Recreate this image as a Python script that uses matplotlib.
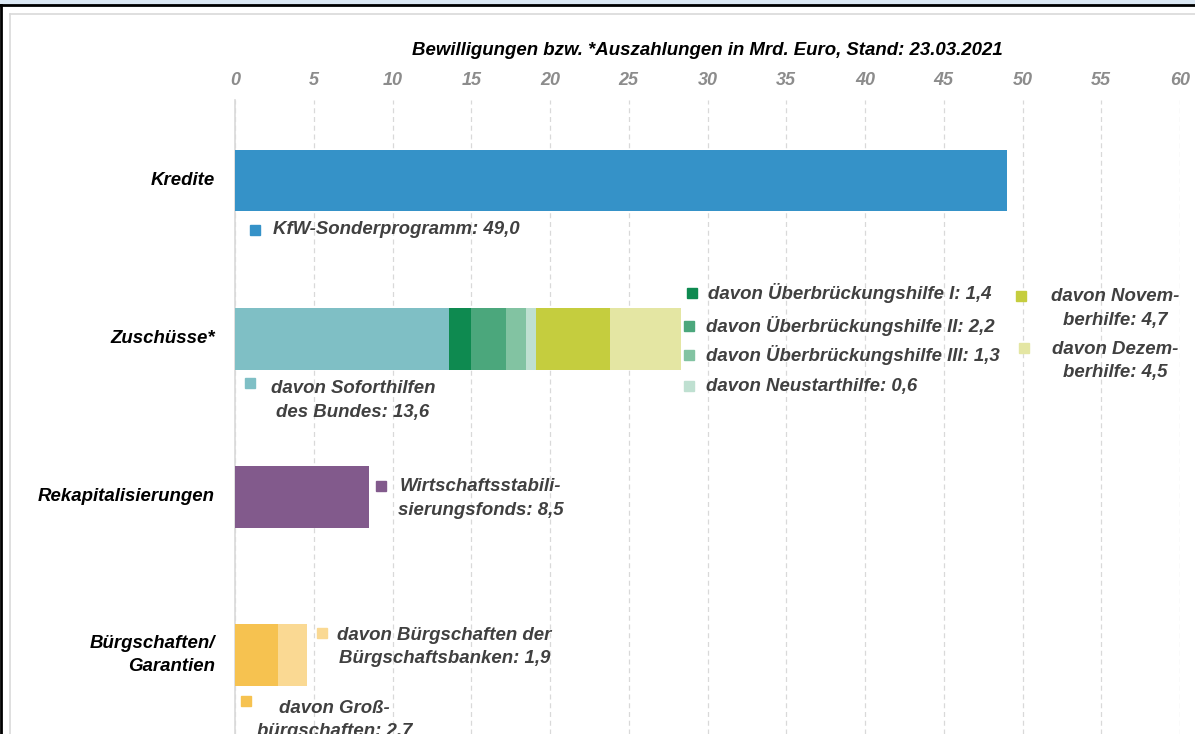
import matplotlib.pyplot as plt
from matplotlib.patches import Rectangle
from matplotlib.lines import Line2D

plt.rcParams['font.family'] = ['Liberation Sans', 'DejaVu Sans']

categories = ['Kredite', 'Zuschüsse*', 'Rekapitalisierungen', 'Bürgschaften/\nGarantien']

# segments per category: (label, value)
kredite = [('KfW-Sonderprogramm', 49.0)]
zuschuesse = [('davon Soforthilfen des Bundes', 13.6),
              ('davon Überbrückungshilfe I', 1.4),
              ('davon Überbrückungshilfe II', 2.2),
              ('davon Überbrückungshilfe III', 1.3),
              ('davon Neustarthilfe', 0.6),
              ('davon Novemberhilfe', 4.7),
              ('davon Dezemberhilfe', 4.5)]
rekap = [('Wirtschaftsstabilisierungsfonds', 8.5)]
buergschaften = [('davon Großbürgschaften', 2.7),
                 ('davon Bürgschaften der Bürgschaftsbanken', 1.9)]

series = [kredite, zuschuesse, rekap, buergschaften]
colours = [['#3592c8'],
           ['#7fbfc5', '#0e8a50', '#4ba77c', '#82c3a2', '#bfe0d1', '#c5cd3e', '#e4e6a3'],
           ['#825a8c'],
           ['#f6c250', '#fad993']]

# label texts (as printed in the chart)
label_texts = [['KfW-Sonderprogramm: 49,0'],
               ['davon Soforthilfen\ndes Bundes: 13,6',
                'davon Überbrückungshilfe I: 1,4',
                'davon Überbrückungshilfe II: 2,2',
                'davon Überbrückungshilfe III: 1,3',
                'davon Neustarthilfe: 0,6',
                'davon Novem-\nberhilfe: 4,7',
                'davon Dezem-\nberhilfe: 4,5'],
               ['Wirtschaftsstabili-\nsierungsfonds: 8,5'],
               ['davon Groß-\nbürgschaften: 2.7',
                'davon Bürgschaften der\nBürgschaftsbanken: 1,9']]

W, H = 1195, 734
fig = plt.figure(figsize=(W / 100, H / 100), dpi=100)
ax_left, ax_right, ax_top = 235, 1180, 100
ax = fig.add_axes([ax_left / W, 0, (ax_right - ax_left) / W, 1 - ax_top / H])

# figure frame
fig.patches.append(Rectangle((0, 1 - 5 / H), 1, 5 / H, transform=fig.transFigure,
                             color='#dbe8f4', zorder=0))
fig.lines.append(Line2D([0, 1], [1 - 5 / H] * 2, transform=fig.transFigure, color='black', lw=2))
fig.lines.append(Line2D([1 / W] * 2, [0, 1 - 5 / H], transform=fig.transFigure, color='black', lw=2))
fig.lines.append(Line2D([10 / W, 1], [1 - 14 / H] * 2, transform=fig.transFigure, color='#d9d9d9', lw=1.2))
fig.lines.append(Line2D([10 / W] * 2, [0, 1 - 14 / H], transform=fig.transFigure, color='#d9d9d9', lw=1.2))

bar_h = 0.39
for i, (segs, cols) in enumerate(zip(series, colours)):
    left = 0
    for (name, val), c in zip(segs, cols):
        ax.barh(i, val, left=left, height=bar_h, color=c, zorder=3)
        left += val

ax.set_xlim(0, 60)
ax.set_ylim(3.5, -0.51)
ax.set_xticks(range(0, 61, 5))
ax.xaxis.tick_top()
ax.tick_params(axis='x', length=0, pad=8, labelsize=13, labelcolor='#8c8c8c')
for t in ax.get_xticklabels():
    t.set_fontweight('bold')
    t.set_fontstyle('italic')
ax.set_yticks([])
ax.grid(axis='x', color='#d9d9d9', linestyle=(0, (4, 3)), lw=0.9, zorder=0)
for s in ['top', 'right', 'bottom']:
    ax.spines[s].set_visible(False)
ax.spines['left'].set_color('#d9d9d9')
ax.spines['left'].set_linewidth(1.2)

ax.set_title('Bewilligungen bzw. *Auszahlungen in Mrd. Euro, Stand: 23.03.2021',
             fontsize=13.4, fontweight='bold', fontstyle='italic', pad=32.5)

for i, cat in enumerate(categories):
    ax.text(-20 / 15.75, i, cat, ha='right', va='center', fontsize=13.4,
            fontweight='bold', fontstyle='italic', linespacing=1.5)

# label layout: (marker x, marker y, text x, text y, ha) in data units
layout = [[(1.3, 0.31, 2.4, 0.31, 'left')],
         [(0.95, 1.28, 7.5, 1.39, 'center'),
          (29.0, 0.71, 30.0, 0.71, 'left'),
          (28.8, 0.92, 29.9, 0.92, 'left'),
          (28.8, 1.10, 29.9, 1.10, 'left'),
          (28.8, 1.30, 29.9, 1.30, 'left'),
          (49.9, 0.73, 55.9, 0.81, 'center'),
          (50.1, 1.06, 55.9, 1.14, 'center'),
          ],
         [(9.3, 1.93, 15.6, 2.01, 'center')],
         [(0.7, 3.29, 6.3, 3.41, 'center'),
          (5.5, 2.86, 13.3, 2.95, 'center')]]

for segs, cols, texts, lays in zip(series, colours, label_texts, layout):
    for c, txt, (mx, my, tx, ty, ha) in zip(cols, texts, lays):
        ax.plot(mx, my, marker='s', ms=7, color=c, ls='none', clip_on=False, zorder=4)
        ax.text(tx, ty, txt, ha=ha, va='center', fontsize=13.4, color='#404040',
                fontweight='bold', fontstyle='italic', linespacing=1.5, zorder=5)

fig.savefig('out.png', dpi=100)
